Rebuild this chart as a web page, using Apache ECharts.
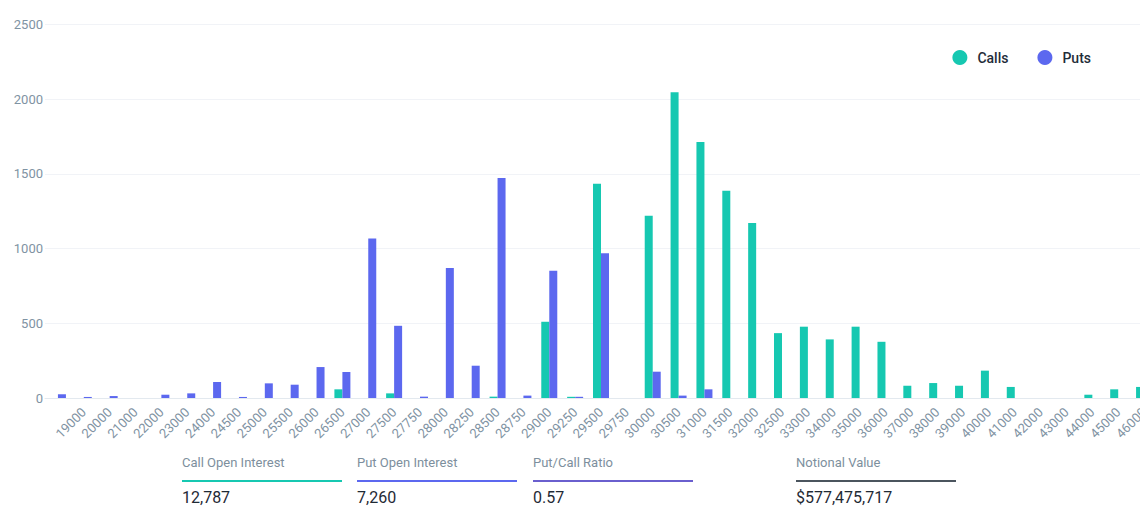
<!DOCTYPE html>
<html>
<head>
<meta charset="utf-8">
<script src="https://cdn.jsdelivr.net/npm/echarts@6/dist/echarts.min.js"></script>
<style>
html,body{margin:0;padding:0;background:#fff;overflow:hidden;}
#chart{width:1140px;height:512px;}
</style>
</head>
<body>
<div id="chart"></div>
<script>
const strikes = ['18000','19000','20000','21000','22000','23000','24000','24500','25000','25500','26000','26500','27000','27500','27750','28000','28250','28500','28750','29000','29250','29500','29750','30000','30500','31000','31500','32000','32500','33000','34000','35000','36000','37000','38000','39000','40000','41000','42000','43000','44000','45000','46000'];
const calls = [0,0,0,0,0,0,0,0,0,0,0,58,0,31,0,0,0,9,0,510,8,1433,0,1219,2045,1713,1386,1170,434,477,392,477,376,82,100,82,183,74,0,0,22,58,74];
const puts  = [25,7,13,0,22,31,107,7,98,89,207,174,1067,483,9,869,216,1471,16,851,8,969,0,176,16,58,0,0,0,0,0,0,0,0,0,0,0,0,0,0,0,0,0];
const yTicks = [0, 500, 1000, 1500, 2000, 2500];
const seriesNames = ['Calls', 'Puts'];
const statLabels = ['Call Open Interest', 'Put Open Interest', 'Put/Call Ratio', 'Notional Value'];
const statValues = ['12,787', '7,260', '0.57', '$577,475,717'];

const colors = ['#16c8b1', '#5c68ef'];
const statColors = ['#16c8b1', '#5c68ef', '#6a5fce', '#4b555e'];
const statX = [182, 357, 533, 796];

const graphic = [];
statLabels.forEach((lab, i) => {
  graphic.push({type:'text', left: statX[i], top: 456, style:{text: lab, fill:'#7d8f9d', font:'13px Roboto'}});
  graphic.push({type:'rect', left: statX[i], top: 480, shape:{width:160, height:2}, style:{fill: statColors[i]}});
  graphic.push({type:'text', left: statX[i], top: 489, style:{text: statValues[i], fill:'#1f2a35', font:'16px Roboto'}});
});

const chart = echarts.init(document.getElementById('chart'), null, {renderer:'svg'});
chart.setOption({
  animation: false,
  color: colors,
  textStyle: {fontFamily: 'Roboto'},
  legend: {
    data: seriesNames,
    right: 44, top: 45,
    icon: 'circle', itemWidth: 15, itemHeight: 15, itemGap: 29,
    textStyle: {fontSize: 14, fontWeight: 500, color: '#1f2d3a', padding: [0,0,0,5]}
  },
  grid: {left: 45, width: 1112, top: 24.3, bottom: 114, outerBoundsMode: 'none', containLabel: false},
  xAxis: {
    type: 'category',
    data: strikes,
    axisLine: {show: true, lineStyle: {color: '#e3e9ef'}},
    axisTick: {show: false},
    axisLabel: {rotate: 45, color: '#7f93a3', fontSize: 13, margin: 12, interval: 0,
      formatter: (v, i) => i === 0 ? '' : v}
  },
  yAxis: {
    type: 'value',
    min: yTicks[0], max: yTicks[yTicks.length-1], interval: 500,
    axisLine: {show: false},
    axisTick: {show: false},
    axisLabel: {color: '#7f93a3', fontSize: 13, margin: 2, formatter: v => String(v)},
    splitLine: {lineStyle: {color: '#f1f3f7'}}
  },
  series: [
    {name: seriesNames[0], type: 'bar', data: calls, barWidth: 8, barGap: '0%'},
    {name: seriesNames[1], type: 'bar', data: puts, barWidth: 8, barGap: '0%'}
  ],
  graphic: graphic
});
</script>
</body>
</html>
